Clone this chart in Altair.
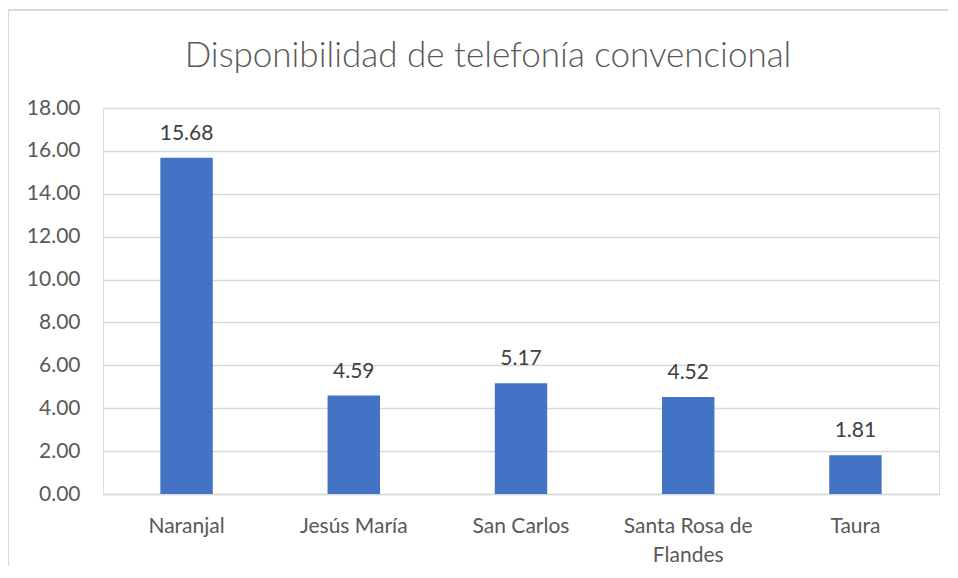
import altair as alt
import pandas as pd

categories = ["Naranjal", "Jesús María", "San Carlos", "Santa Rosa de Flandes", "Taura"]
values = [15.68, 4.59, 5.17, 4.52, 1.81]
y_ticks = [0, 2, 4, 6, 8, 10, 12, 14, 16, 18]
title_text = "Disponibilidad de telefonía convencional"

df = pd.DataFrame({"cat": categories, "val": values})

FONT = "Lato"
W, H = 836, 386

x_enc = alt.X(
    "cat:N",
    sort=categories,
    title=None,
    scale=alt.Scale(paddingInner=0.6865, paddingOuter=0.343),
    axis=alt.Axis(
        labelAngle=0,
        labelFont=FONT,
        labelFontSize=21,
        labelColor="#595959",
        labelPadding=21,
        labelLineHeight=29,
        labelExpr="datum.value == 'Santa Rosa de Flandes' ? ['Santa Rosa de', 'Flandes'] : datum.value",
        ticks=False,
        domain=True,
        domainColor="#D9D9D9",
        domainWidth=1.5,
        grid=False,
    ),
)

y_enc = alt.Y(
    "val:Q",
    title=None,
    scale=alt.Scale(domain=[0, 18], nice=False),
    axis=alt.Axis(
        values=y_ticks,
        format=".2f",
        labelFont=FONT,
        labelFontSize=21,
        labelColor="#595959",
        labelPadding=23,
        ticks=False,
        domain=False,
        grid=True,
        gridColor="#D9D9D9",
        gridWidth=1.5,
    ),
)

bars = alt.Chart(df).mark_bar(color="#4472C4").encode(x=x_enc, y=y_enc)

labels = alt.Chart(df).mark_text(
    font=FONT, fontSize=21, color="#404040", baseline="alphabetic", dy=-18
).encode(
    x=alt.X("cat:N", sort=categories),
    y=alt.Y("val:Q"),
    text=alt.Text("val:Q", format=".2f"),
)

one = alt.Data(values=[{}])

border_top = alt.Chart(one).mark_rule(color="#D9D9D9", strokeWidth=2).encode(
    x=alt.value(-95), x2=alt.value(846), y=alt.value(-98)
)
border_left = alt.Chart(one).mark_rule(color="#D9D9D9", strokeWidth=2).encode(
    x=alt.value(-95), y=alt.value(-98), y2=alt.value(470)
)

title = alt.Chart(one).mark_text(
    text=title_text,
    font=FONT,
    fontSize=35,
    fontWeight=300,
    color="#595959",
    align="center",
    baseline="alphabetic",
).encode(x=alt.value(385), y=alt.value(-41))

chart = alt.layer(border_top, border_left, bars, labels, title).properties(
    width=W,
    height=H,
    autosize=alt.AutoSizeParams(type="none"),
    padding={"left": 95, "top": 100, "right": 9, "bottom": 72},
).configure_view(strokeWidth=0, stroke="transparent").configure(background="white")

chart.save("out.html", embed_options={"renderer": "svg", "actions": False})
